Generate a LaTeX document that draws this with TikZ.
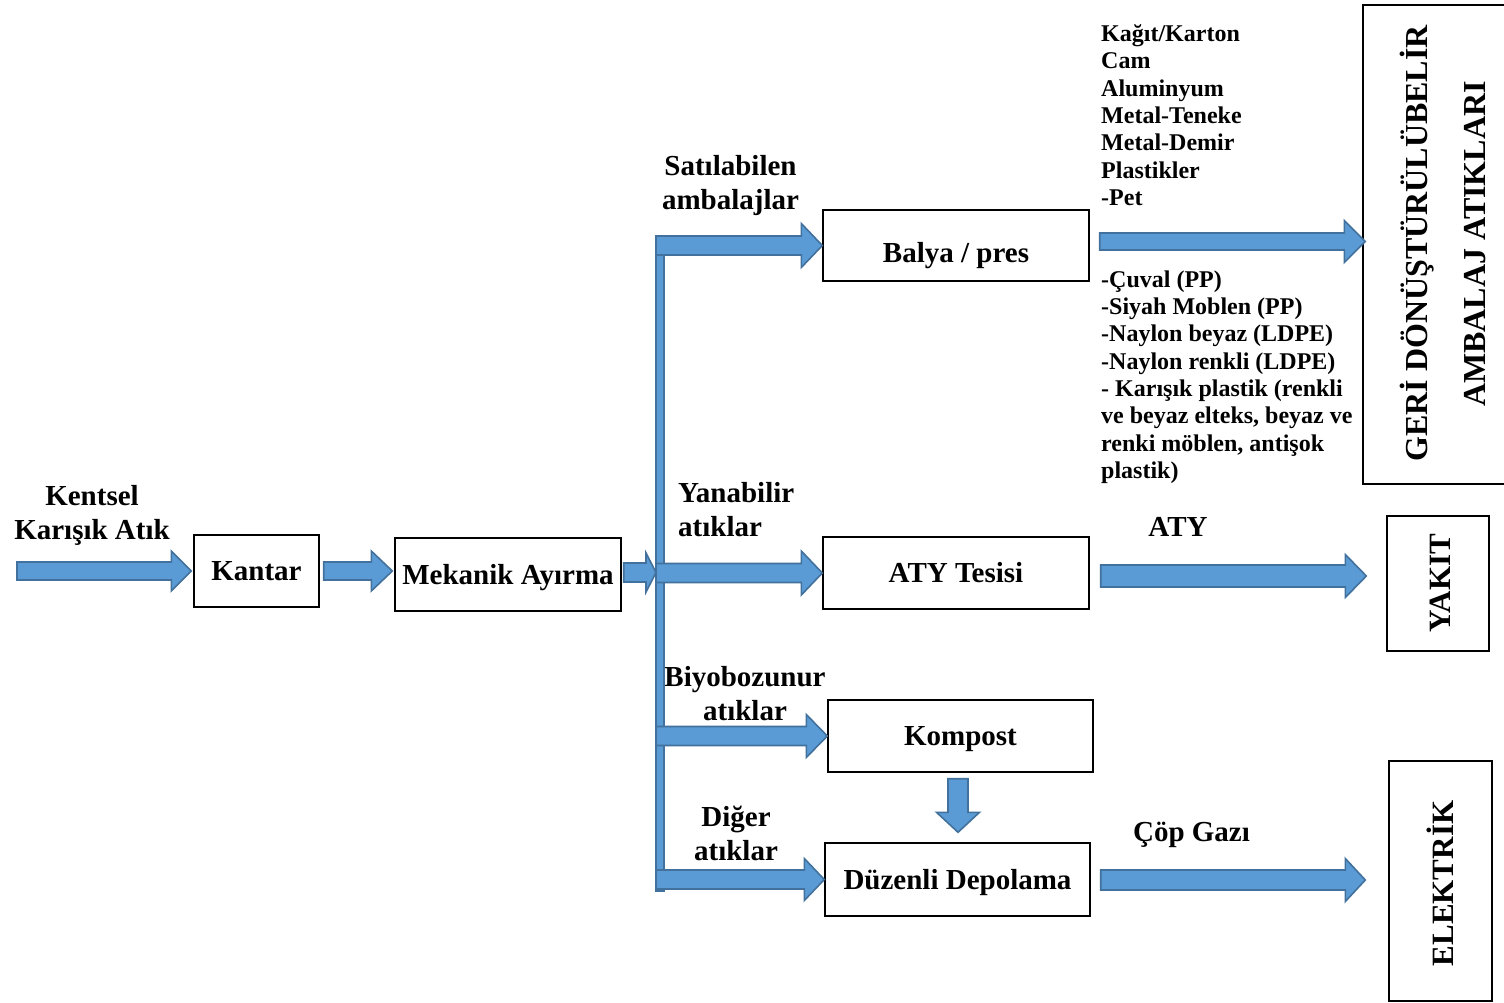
\documentclass[tikz,border=0pt]{standalone}
\usepackage{fontspec}
\setmainfont{Liberation Serif}
\usetikzlibrary{calc}

\definecolor{flowfill}{RGB}{91,155,213}
\definecolor{flowedge}{RGB}{65,113,156}

\newcommand\labfont{\bfseries\fontsize{29}{34}\selectfont}
\newcommand\listfnt{\bfseries\fontsize{24}{27.3}\selectfont}
\newcommand\sidefnt{\bfseries\fontsize{32}{36}\selectfont}
\newcommand\sidefntb{\bfseries\fontsize{31}{35}\selectfont}

% Block arrow pointing right: tail point, tip point (x only), half shaft, half head, head length
\newcommand\rightflow[5]{%
  \path[flow] let \p1=#1, \p2=#2 in
    (\x1,\y1+#3) -- (\x2-#5,\y1+#3) -- (\x2-#5,\y1+#4) -- (\x2,\y1)
    -- (\x2-#5,\y1-#4) -- (\x2-#5,\y1-#3) -- (\x1,\y1-#3) -- cycle;}

% Block arrow pointing down: tail point, tip point (y only), half shaft, half head, head length
\newcommand\downflow[5]{%
  \path[flow] let \p1=#1, \p2=#2 in
    (\x1+#3,\y1) -- (\x1+#3,\y2+#5) -- (\x1+#4,\y2+#5) -- (\x1,\y2)
    -- (\x1-#4,\y2+#5) -- (\x1-#3,\y2+#5) -- (\x1-#3,\y1) -- cycle;}

\begin{document}
\begin{tikzpicture}[x=1pt,y=-1pt,
  procbox/.style={draw=black, line width=1.4pt, inner sep=0pt, font=\labfont,
                  text height=19pt, text depth=0pt},
  outbox/.style={draw=black, line width=1.4pt, inner sep=0pt},
  lab/.style={font=\labfont, align=center, inner sep=0pt},
  listtext/.style={font=\listfnt, align=left, anchor=north west, inner sep=0pt},
  sidetext/.style={font=\sidefnt, inner sep=0pt, rotate=90, anchor=base},
  sidetextb/.style={font=\sidefntb, inner sep=0pt, rotate=90, anchor=base},
  flow/.style={fill=flowfill, draw=flowedge, line width=1.6pt}]

\useasboundingbox (0,0) rectangle (1504,1003);
\fill[white] (0,0) rectangle (1504,1003);

% process boxes
\node[procbox, minimum width=125pt, minimum height=72pt] (kantar) at (256.5,571) {Kantar};
\node[procbox, minimum width=226pt, minimum height=73pt] (mek) at (508,574.5) {Mekanik Ayırma};
\node[procbox, minimum width=266pt, minimum height=71pt, text height=34pt] (balya) at (956,245.5) {Balya / pres};
\node[procbox, minimum width=266pt, minimum height=72pt] (aty) at (956,573) {ATY Tesisi};
\node[procbox, minimum width=265pt, minimum height=72pt] (kompost) at (960.5,736) {Kompost};
\node[procbox, minimum width=265pt, minimum height=73pt] (depo) at (957.5,879.5) {Düzenli Depolama};

% output boxes
\node[outbox, minimum width=150pt, minimum height=479pt] (recycle) at (1438,244.5) {};
\node[outbox, minimum width=102pt, minimum height=135pt] (fuel) at (1438,583.5) {};
\node[outbox, minimum width=103pt, minimum height=240pt] (power) at (1440.5,881) {};

\node[sidetext] (recycleA) at (1427,243.5) {GERİ DÖNÜŞTÜRÜLÜBELİR};
\node[sidetext] (recycleB) at (1485,244) {AMBALAJ ATIKLARI};
\node[sidetextb] (fuellbl) at (1450,583.5) {YAKIT};
\node[sidetextb] (powerlbl) at (1453,883.5) {ELEKTRİK};

% flow labels
\node[lab, anchor=north] (lblin) at (92,485) {Kentsel\\Karışık Atık};
\node[lab, anchor=north] (lblsale) at (730.5,155) {Satılabilen\\ambalajlar};
\node[lab, anchor=north west, align=left] (lblburn) at (678,482) {Yanabilir\\atıklar};
\node[lab, anchor=north] (lblbio) at (745,666) {Biyobozunur\\atıklar};
\node[lab, anchor=north] (lblother) at (736,806) {Diğer\\atıklar};
\node[lab, anchor=base] (lblaty) at (1178,536) {ATY};
\node[lab, anchor=base] (lblgas) at (1191.5,841) {Çöp Gazı};

% material lists
\node[listtext] (listA) at (1101,24.5) {Kağıt/Karton\\Cam\\Aluminyum\\Metal-Teneke\\Metal-Demir\\Plastikler\\-Pet};
\node[listtext] (listB) at (1101,270.5) {-Çuval (PP)\\-Siyah Moblen (PP)\\-Naylon beyaz (LDPE)\\-Naylon renkli (LDPE)\\- Karışık plastik (renkli\\ve beyaz elteks, beyaz ve\\renki möblen, antişok\\plastik)};

% trunk line of the distribution
\coordinate (src) at (17,571);
\coordinate (trunktop) at (660,236);
\coordinate (trunkbot) at (660,891);

% main line arrows
\rightflow{(src)}{($(kantar.west)+(-2,0)$)}{9pt}{20pt}{20pt}
\rightflow{($(kantar.east)+(4,0)$)}{($(mek.west)+(-2,0)$)}{9pt}{20pt}{21pt}
\rightflow{($(mek.east)+(2,-2)$)}{($(trunktop |- mek.east)+(-4,0)$)}{9.5pt}{19.5pt}{10pt}

% trunk, then the branches leaving it
\path[flow] ($(trunktop)+(-4,0)$) rectangle ($(trunkbot)+(4,0)$);
\rightflow{($(trunktop |- balya.west)+(-4,0)$)}{(balya.west)}{9.5pt}{22pt}{21pt}
\rightflow{($(trunktop |- aty.west)+(-4,0)$)}{(aty.west)}{9.5pt}{22pt}{21pt}
\rightflow{($(trunktop |- kompost.west)+(-4,0)$)}{(kompost.west)}{9.5pt}{21.5pt}{21pt}
\rightflow{($(trunktop |- depo.west)+(-4,0)$)}{(depo.west)}{9.5pt}{21pt}{20pt}

% compost to landfill
\downflow{($(kompost.south)+(-2.5,6)$)}{($(depo.north)+(0,-10)$)}{10pt}{21.5pt}{20pt}

% outputs
\rightflow{($(balya.east)+(10,-4)$)}{($(recycle.west)+(3,0)$)}{8.5pt}{21pt}{21pt}
\rightflow{($(aty.east)+(11,3)$)}{($(fuel.west)+(-20,0)$)}{11pt}{21.5pt}{21pt}
\rightflow{($(depo.east)+(10,0.5)$)}{($(power.west)+(-23,0)$)}{10pt}{21.5pt}{20pt}
\end{tikzpicture}
\end{document}
